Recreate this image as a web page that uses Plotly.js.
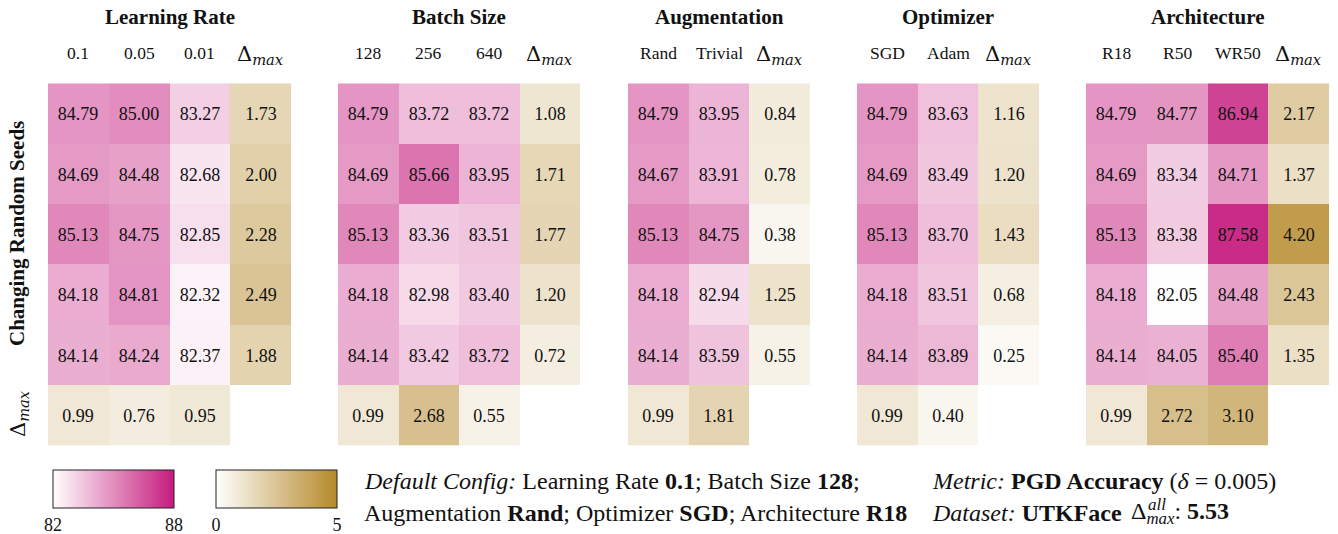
<!DOCTYPE html>
<html>
<head>
<meta charset="utf-8">
<script src="https://cdn.plot.ly/plotly-3.0.1.min.js"></script>
<style>html,body{margin:0;padding:0;background:#fff;}#chart{width:1338px;height:534px;}</style>
</head>
<body>
<div id="chart"></div>
<script>
// ---------------- data ----------------
const seedRows = ['Seed 1', 'Seed 2', 'Seed 3', 'Seed 4', 'Seed 5'];
const deltaLabel = 'Δmax';

const panelTitles = ['Learning Rate', 'Batch Size', 'Augmentation', 'Optimizer', 'Architecture'];

const lrLabels = ['0.1', '0.05', '0.01'];
const lrValues = [
  [84.79, 85.00, 83.27],
  [84.69, 84.48, 82.68],
  [85.13, 84.75, 82.85],
  [84.18, 84.81, 82.32],
  [84.14, 84.24, 82.37]
];
const lrRowDelta = [1.73, 2.00, 2.28, 2.49, 1.88];
const lrColDelta = [0.99, 0.76, 0.95];

const bsLabels = ['128', '256', '640'];
const bsValues = [
  [84.79, 83.72, 83.72],
  [84.69, 85.66, 83.95],
  [85.13, 83.36, 83.51],
  [84.18, 82.98, 83.40],
  [84.14, 83.42, 83.72]
];
const bsRowDelta = [1.08, 1.71, 1.77, 1.20, 0.72];
const bsColDelta = [0.99, 2.68, 0.55];

const augLabels = ['Rand', 'Trivial'];
const augValues = [
  [84.79, 83.95],
  [84.67, 83.91],
  [85.13, 84.75],
  [84.18, 82.94],
  [84.14, 83.59]
];
const augRowDelta = [0.84, 0.78, 0.38, 1.25, 0.55];
const augColDelta = [0.99, 1.81];

const optLabels = ['SGD', 'Adam'];
const optValues = [
  [84.79, 83.63],
  [84.69, 83.49],
  [85.13, 83.70],
  [84.18, 83.51],
  [84.14, 83.89]
];
const optRowDelta = [1.16, 1.20, 1.43, 0.68, 0.25];
const optColDelta = [0.99, 0.40];

const archLabels = ['R18', 'R50', 'WR50'];
const archValues = [
  [84.79, 84.77, 86.94],
  [84.69, 83.34, 84.71],
  [85.13, 83.38, 87.58],
  [84.18, 82.05, 84.48],
  [84.14, 84.05, 85.40]
];
const archRowDelta = [2.17, 1.37, 4.20, 2.43, 1.35];
const archColDelta = [0.99, 2.72, 3.10];

const accRange = [82, 88];
const deltaRange = [0, 5];
const deltaAll = '5.53';

// ---------------- layout helpers ----------------
const W = 1338, H = 534;
const px = x => x / W;
const py = y => 1 - y / H;

const panels = [
  {labels: lrLabels, vals: lrValues, rowD: lrRowDelta, colD: lrColDelta, x0: 48, x1: 291},
  {labels: bsLabels, vals: bsValues, rowD: bsRowDelta, colD: bsColDelta, x0: 338, x1: 580},
  {labels: augLabels, vals: augValues, rowD: augRowDelta, colD: augColDelta, x0: 628, x1: 810},
  {labels: optLabels, vals: optValues, rowD: optRowDelta, colD: optColDelta, x0: 857, x1: 1039},
  {labels: archLabels, vals: archValues, rowD: archRowDelta, colD: archColDelta, x0: 1086, x1: 1329}
];
const gridTop = 83.3, gridBottom = 445.7;
const serif = "'Liberation Serif', 'Times New Roman', serif";
const mathSerif = "'DejaVu Serif', serif";
const ink = '#111111';
const deltaHtml = 'Δ<sub><i>max</i></sub>';

const traces = [];
const cbCommon = {
  orientation: 'h', xanchor: 'left', y: py(470), yanchor: 'top',
  len: 121, lenmode: 'pixels', thickness: 38, thicknessmode: 'pixels',
  xpad: 0, ypad: 0, outlinewidth: 1, outlinecolor: '#222',
  ticks: '', ticklen: 0, tickfont: {family: serif, size: 18, color: ink}
};
const layout = {
  width: W, height: H,
  margin: {l: 0, r: 0, t: 0, b: 0},
  paper_bgcolor: '#ffffff', plot_bgcolor: '#ffffff',
  showlegend: false,
  font: {family: serif, color: ink},
  annotations: [],
  coloraxis: {
    cmin: accRange[0], cmax: accRange[1],
    colorscale: [[0, '#ffffff'], [1, '#c51b7d']],
    colorbar: Object.assign({}, cbCommon, {x: px(53), tickvals: accRange, ticktext: accRange.map(String)})
  },
  coloraxis2: {
    cmin: deltaRange[0], cmax: deltaRange[1],
    colorscale: [[0, '#ffffff'], [1, '#b5892a']],
    colorbar: Object.assign({}, cbCommon, {x: px(216), tickvals: deltaRange, ticktext: deltaRange.map(String)})
  }
};

const cellFont = {family: serif, size: 18, color: ink};

panels.forEach((p, i) => {
  const n = i + 1;
  const xa = n === 1 ? 'x' : 'x' + n;
  const ya = n === 1 ? 'y' : 'y' + n;
  const xCats = p.labels.concat([deltaLabel]);
  const yCats = seedRows.concat([deltaLabel]);
  layout[n === 1 ? 'xaxis' : 'xaxis' + n] = {
    domain: [px(p.x0), px(p.x1)], anchor: ya,
    type: 'category', categoryorder: 'array', categoryarray: xCats,
    range: [-0.5, xCats.length - 0.5],
    showticklabels: false, showgrid: false, zeroline: false, showline: false, ticks: '', fixedrange: true
  };
  layout[n === 1 ? 'yaxis' : 'yaxis' + n] = {
    domain: [py(gridBottom), py(gridTop)], anchor: xa,
    type: 'category', categoryorder: 'array', categoryarray: yCats,
    range: [yCats.length - 0.5, -0.5],
    showticklabels: false, showgrid: false, zeroline: false, showline: false, ticks: '', fixedrange: true
  };
  // delta cells (per-seed column + per-config row), empty elsewhere
  const deltaZ = p.vals.map((row, k) => row.map(() => null).concat([p.rowD[k]]))
    .concat([p.colD.concat([null])]);
  traces.push({
    type: 'heatmap', xaxis: xa, yaxis: ya,
    x: xCats, y: yCats, z: deltaZ, coloraxis: 'coloraxis2',
    texttemplate: '%{z:.2f}', textfont: cellFont, hoverinfo: 'skip', hoverongaps: false
  });
  // accuracy cells
  traces.push({
    type: 'heatmap', xaxis: xa, yaxis: ya,
    x: p.labels, y: seedRows, z: p.vals, coloraxis: 'coloraxis',
    texttemplate: '%{z:.2f}', textfont: cellFont, hoverinfo: 'skip'
  });
  layout.annotations.push({
    text: '<b>' + panelTitles[i] + '</b>', xref: 'paper', yref: 'paper',
    x: px((p.x0 + p.x1) / 2), y: py(17), xanchor: 'center', yanchor: 'middle',
    showarrow: false, font: {family: serif, size: 21, color: ink}
  });
  xCats.forEach((c, j) => {
    const isDelta = j === xCats.length - 1;
    layout.annotations.push({
      text: isDelta ? deltaHtml : c, xref: xa, yref: 'paper', x: j, y: py(isDelta ? 55 : 53),
      xanchor: 'center', yanchor: 'middle', showarrow: false,
      font: isDelta ? {family: mathSerif, size: 21, color: ink} : {family: serif, size: 17.5, color: ink}
    });
  });
});

layout.annotations.push({
  text: '<b>Changing Random Seeds</b>', xref: 'paper', yref: 'paper',
  x: px(17), y: py(234), textangle: -90, xanchor: 'center', yanchor: 'middle',
  showarrow: false, font: {family: serif, size: 21, color: ink}
});
layout.annotations.push({
  text: deltaHtml, xref: 'paper', yref: 'paper',
  x: px(19), y: py(414), textangle: -90, xanchor: 'center', yanchor: 'middle',
  showarrow: false, font: {family: mathSerif, size: 21, color: ink}
});

const noteFont = {family: serif, size: 24, color: ink};
const notes = [
  {t: '<i>Default Config:</i> Learning Rate <b>0.1</b>; Batch Size <b>128</b>;', x: 362, y: 481},
  {t: 'Augmentation <b>Rand</b>; Optimizer <b>SGD</b>; Architecture <b>R18</b>', x: 362, y: 513},
  {t: '<i>Metric:</i> <b>PGD Accuracy</b> (<i>δ</i> = 0.005)', x: 930, y: 481},
  {t: '<i>Dataset:</i> <b>UTKFace</b>', x: 930, y: 513}
];
notes.forEach(nt => layout.annotations.push({
  text: nt.t, xref: 'paper', yref: 'paper', x: px(nt.x), y: py(nt.y),
  xanchor: 'left', yanchor: 'middle', showarrow: false, font: noteFont
}));
// overall delta: Δ with stacked "all" (superscript) over "max" (subscript)
layout.annotations.push({
  text: 'Δ<sub><i>max</i></sub>: <b>' + deltaAll + '</b>', xref: 'paper', yref: 'paper',
  x: px(1129), y: py(513), xanchor: 'left', yanchor: 'middle', showarrow: false,
  font: {family: serif, size: 24, color: ink}
});
layout.annotations.push({
  text: '<i>all</i>', xref: 'paper', yref: 'paper',
  x: px(1146), y: py(504), xanchor: 'left', yanchor: 'middle', showarrow: false,
  font: {family: serif, size: 17, color: ink}
});

Plotly.newPlot('chart', traces, layout, {displayModeBar: false, staticPlot: true});
</script>
</body>
</html>
